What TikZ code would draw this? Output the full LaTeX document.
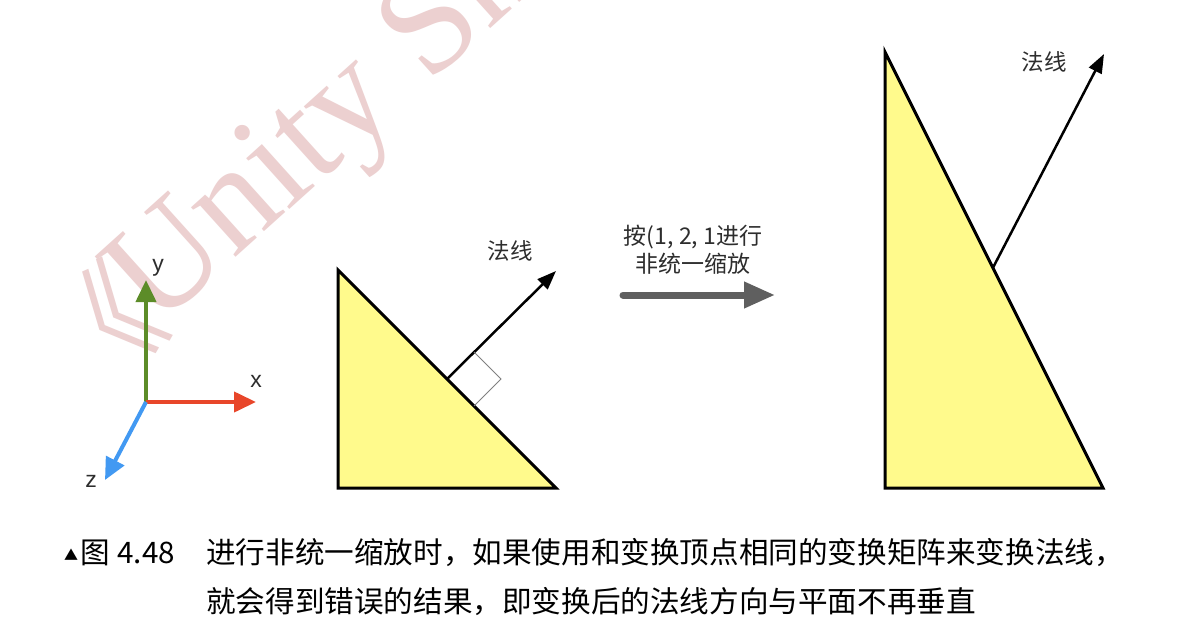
\documentclass[tikz,border=0pt]{standalone}
\usepackage{fontspec}
\setmainfont{Noto Sans CJK SC}
\newfontfamily\cjk{Noto Sans CJK SC}
\newfontfamily\wmserif{Liberation Serif}
\newfontfamily\latinsans{Liberation Sans}
\usetikzlibrary{arrows.meta,calc}
\definecolor{wm}{RGB}{236,208,208}
\definecolor{axgreen}{RGB}{92,140,40}
\definecolor{axred}{RGB}{232,70,42}
\definecolor{axblue}{RGB}{66,153,242}
\definecolor{triyellow}{RGB}{255,250,140}
\definecolor{labelgray}{RGB}{45,45,45}
\definecolor{arrgray}{RGB}{95,95,95}
\tikzset{
  axis/.style={line width=4pt,-{Triangle[length=22pt,width=20pt]}},
  axlabel/.style={font=\latinsans\fontsize{23}{23}\selectfont,text=labelgray,inner sep=0pt},
  tri/.style={draw=black,line width=3pt,fill=triyellow,line join=miter},
  normal/.style={draw=black,line width=2.5pt,-{Triangle[length=19pt,width=14pt]}},
  nlabel/.style={font=\cjk\fontsize{22.5}{22.5}\selectfont,text=labelgray,inner sep=0pt},
  captext/.style={font=\cjk\fontsize{29.6}{29.6}\selectfont,text=black,inner sep=0pt,anchor=west},
  wmtext/.style={rotate=42,text=wm,inner sep=0pt},
}
\begin{document}
\begin{tikzpicture}[x=1pt,y=-1pt]
\useasboundingbox (0,0) rectangle (1190,636);
\fill[white] (0,0) rectangle (1190,636);
% watermark
\begin{scope}
\clip (0,0) rectangle (1190,636);
\node[wmtext,anchor=center,font=\cjk\fontsize{118}{118}\selectfont] (wmbracket) at (97,333) {《};
\node[wmtext,anchor=base west,font=\wmserif\fontsize{145}{145}\selectfont] (wmark) at (156,330) {Unity Shader};
\end{scope}
% axes
\coordinate (O) at (146,402);
\coordinate (Ytip) at (146,280);
\coordinate (Xtip) at (256,402);
\coordinate (Ztip) at (105,480);
\draw[axis,axgreen] (O) -- (Ytip);
\draw[axis,axred] (O) -- (Xtip);
\draw[axis,axblue] (O) -- (Ztip);
\node[axlabel] (ylab) at (158,268) {y};
\node[axlabel] (xlab) at (256,381) {x};
\node[axlabel] (zlab) at (91,481) {z};
% left triangle
\coordinate (A1) at (338,270);
\coordinate (B1) at (338,488);
\coordinate (C1) at (556,488);
\draw[tri] (A1) -- (B1) -- (C1) -- cycle;
\coordinate (F1) at ($(A1)!0.5!(C1)$);
\coordinate (N1) at (556,271);
\draw[normal] (F1) -- (N1);
\coordinate (S1) at ($(F1)+(27,-27)$);
\coordinate (S2) at ($(F1)+(54,0)$);
\coordinate (S3) at ($(F1)+(27,27)$);
\draw[gray,line width=1pt] (S1) -- (S2) -- (S3);
\node[nlabel] (n1) at (510,251) {法线};
% middle arrow
\node[font=\cjk\fontsize{23}{28}\selectfont,text=labelgray,align=center,inner sep=0pt] (mid) at (693,250) {按(1, 2, 1进行\\非统一缩放};
\coordinate (M1) at (623,295);
\coordinate (M2) at (775,295);
\draw[arrgray,line width=7pt,line cap=round,-{Triangle[length=31pt,width=25pt]}] (M1) -- (M2);
% right triangle
\coordinate (A2) at (885,52);
\coordinate (B2) at (885,488);
\coordinate (C2) at (1103,488);
\draw[tri] (A2) -- (B2) -- (C2) -- cycle;
\coordinate (F2) at ($(A2)!0.495!(C2)$);
\coordinate (N2) at (1104,54);
\draw[normal] (F2) -- (N2);
\node[nlabel] (n2) at (1044,62) {法线};
% caption
\node[font=\cjk\fontsize{14}{14}\selectfont,inner sep=0pt] (tri) at (71,555) {▲};
\node[captext] (fig) at (80,553) {图\hspace{1pt} 4.48};
\node[captext] (l1) at (206,553) {进行非统一缩放时，如果使用和变换顶点相同的变换矩阵来变换法线，};
\node[captext] (l2) at (206,602) {就会得到错误的结果，即变换后的法线方向与平面不再垂直};
\end{tikzpicture}
\end{document}
